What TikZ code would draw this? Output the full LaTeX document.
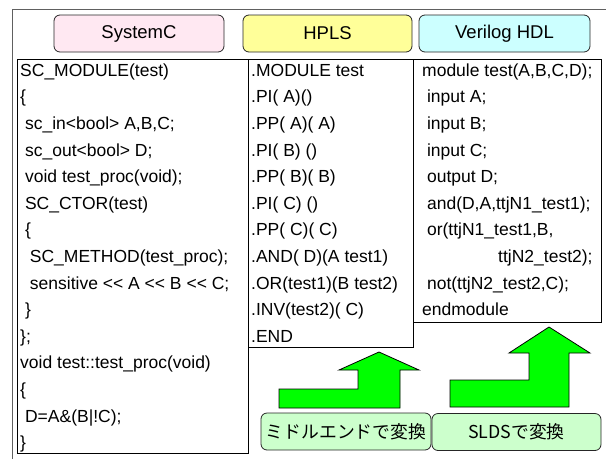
\documentclass[tikz,border=0pt]{standalone}
\usepackage{fontspec}
\setmainfont{Liberation Sans}
\newfontfamily\jp{Noto Sans CJK JP}
\definecolor{scpink}{HTML}{FFE8F2}
\definecolor{hplsyellow}{HTML}{FFFF99}
\definecolor{vcyan}{HTML}{CCFFFF}
\definecolor{lgreen}{HTML}{CCFFCC}
\definecolor{agreen}{HTML}{00FF00}
\definecolor{framegray}{HTML}{606060}
\begin{document}
\begin{tikzpicture}[x=1pt,y=-1pt,
  titlebox/.style={draw=black!85, rounded corners=6pt, line width=0.8pt, inner sep=0pt,
    minimum height=37pt, font=\fontsize{18.5}{20}\selectfont},
  codebox/.style={draw=black, line width=0.8pt, fill=white},
  codeline/.style={anchor=base west, inner sep=0pt, font=\fontsize{17.5}{20}\selectfont},
  bigarrow/.style={fill=agreen, draw=black, line width=0.8pt, line join=miter},
  notebox/.style={draw=black!85, fill=lgreen, rounded corners=6pt, line width=0.8pt, inner sep=0pt,
    minimum height=37pt, font=\jp\fontsize{17.8}{20}\selectfont}]
\useasboundingbox (0,0) rectangle (606,459);
% outer frame
\draw[framegray, line width=0.8pt] (12,459) -- (12,9) -- (606,9);
% title boxes
\node[titlebox, fill=scpink, minimum width=170pt] (tsc) at (139,33.5) {SystemC};
\node[titlebox, fill=hplsyellow, minimum width=169pt] (thp) at (327.5,33.5) {HPLS};
\node[titlebox, fill=vcyan, minimum width=171pt] (tvl) at (504.5,33.5) {Verilog HDL};
% code boxes
\draw[codebox] (17,59) rectangle (248,453);
\draw[codebox] (248,59) rectangle (413,347);
\draw[codebox] (413,59) rectangle (601,322);
% SystemC code
\foreach \t [count=\i from 0] in {
  {SC\_MODULE(test)},
  {\{},
  {\ sc\_in<bool> A,B,C;},
  {\ sc\_out<bool> D;},
  {\ void test\_proc(void);},
  {\ SC\_CTOR(test)},
  {\ \{},
  {\ \ SC\_METHOD(test\_proc);},
  {\ \ sensitive <{}< A <{}< B <{}< C;},
  {\ \}},
  {\};},
  {void test::test\_proc(void)},
  {\{},
  {\ D=A\&(B|!C);},
  {\}}}
  \node[codeline] (sc\i) at (20,{76.3+26.6*\i}) {\t};
% HPLS code
\foreach \t [count=\i from 0] in {
  {.MODULE test},
  {.PI( A)()},
  {.PP( A)( A)},
  {.PI( B) ()},
  {.PP( B)( B)},
  {.PI( C) ()},
  {.PP( C)( C)},
  {.AND( D)(A test1)},
  {.OR(test1)(B test2)},
  {.INV(test2)( C)},
  {.END}}
  \node[codeline] (hp\i) at (251,{76.3+26.6*\i}) {\t};
% Verilog code
\foreach \t [count=\i from 0] in {
  {module test(A,B,C,D);},
  {\ input A;},
  {\ input B;},
  {\ input C;},
  {\ output D;},
  {\ and(D,A,ttjN1\_test1);},
  {\ or(ttjN1\_test1,B,},
  {\hspace*{76pt}ttjN2\_test2);},
  {\ not(ttjN2\_test2,C);},
  {endmodule}}
  \node[codeline] (vl\i) at (422,{76.3+26.6*\i}) {\t};
% arrows
\draw[bigarrow] (279,408) -- (279,389) -- (358,389) -- (358,370) -- (339,370) -- (379,352)
  -- (419,370) -- (400,370) -- (400,408) -- cycle;
\draw[bigarrow] (450,407) -- (450,380) -- (529,380) -- (529,353) -- (509,353) -- (549,327)
  -- (590,353) -- (569,353) -- (569,407) -- cycle;
% bottom labels
\node[notebox, minimum width=170pt] (nmid) at (346,431.5) {ミドルエンドで変換};
\node[notebox, minimum width=169pt] (nslds) at (516.5,432) {SLDSで変換};
\end{tikzpicture}
\end{document}
